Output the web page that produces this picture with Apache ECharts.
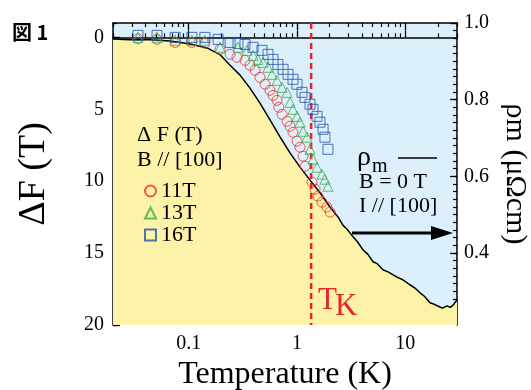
<!DOCTYPE html>
<html><head><meta charset="utf-8">
<script src="https://cdn.jsdelivr.net/npm/echarts@6/dist/echarts.min.js"></script>
<style>html,body{margin:0;padding:0;background:#fff}#c{width:531px;height:390px}</style>
</head><body><div id="c"></div>
<script>
// rho_m (B = 0 T) vs temperature
const rhoT = [0.02,0.0287,0.044,0.067,0.103,0.148,0.195,0.241,0.298,0.368,0.455,0.563,0.697,0.861,1.066,1.318,1.63,2.017,2.39,2.66,2.9,3.29,3.6,4.07,4.5,5.03,5.5,6.22,7.0,8.38,9.5,11.0,12.2,13.7,15.0,16.9,18.5,20.9,22.0,24.3,26.0,27.6,30];
const rhoV = [0.958,0.956,0.956,0.953,0.945,0.935,0.917,0.890,0.864,0.830,0.791,0.747,0.703,0.661,0.624,0.590,0.557,0.520,0.494,0.472,0.462,0.442,0.430,0.408,0.397,0.377,0.372,0.356,0.350,0.337,0.330,0.317,0.309,0.296,0.287,0.270,0.266,0.259,0.256,0.262,0.258,0.264,0.277];
// Delta F at 11 T
const t11 = [0.034,0.051,0.075,0.107,0.141,0.195,0.241,0.279,0.331,0.368,0.41,0.455,0.507,0.563,0.60,0.654,0.68,0.727,0.809,0.862,0.918,1.0,1.066,1.136,1.185,1.376,1.466,1.56,1.70,1.89,2.02];
const f11 = [0.1,0.14,0.35,0.35,0.4,0.83,1.18,1.39,1.6,1.94,2.29,2.78,3.26,3.68,4.03,4.38,4.86,5.35,5.83,6.18,6.6,7.22,7.64,8.26,8.96,10.07,10.56,11.04,11.46,11.8,12.15];
// Delta F at 13 T
const t13 = [0.034,0.051,0.075,0.107,0.141,0.195,0.285,0.345,0.393,0.436,0.486,0.54,0.588,0.654,0.727,0.809,0.862,0.918,1.0,1.066,1.136,1.237,1.318,1.405,1.53,1.70,1.81,1.93];
const f13 = [0,0,0.2,0.2,0.2,0.69,0.69,0.9,1.25,1.53,1.74,2.08,2.57,2.99,3.47,3.82,4.51,5.0,5.49,5.9,6.53,6.94,7.78,8.47,9.03,9.51,9.86,10.35];
// Delta F at 16 T
const t16 = [0.034,0.051,0.075,0.107,0.141,0.187,0.241,0.285,0.331,0.393,0.475,0.54,0.60,0.667,0.743,0.826,0.918,1.0,1.112,1.185,1.318,1.405,1.53,1.63,1.74,1.81,1.93];
const f16 = [-0.14,-0.14,0,0,0,0.14,0.35,0.42,0.49,0.69,0.9,1.18,1.53,1.88,2.22,2.57,2.92,3.26,3.82,4.17,4.65,5.0,5.49,5.9,6.39,6.94,7.78];
const TK = 1.35;
const xMajor = [0.1,1,10];
const xMinor = [0.02,0.03,0.04,0.05,0.06,0.07,0.08,0.09,0.2,0.3,0.4,0.5,0.6,0.7,0.8,0.9,2,3,4,5,6,7,8,9,20,30];
const yLeftMajor = [0,5,10,15,20];
const yRightMajor = [0.4,0.6,0.8,1.0];

const yRightMinor = [];
for (let v = 22; v <= 100; v += 2) yRightMinor.push(v / 100);
const yLeftMinor = [];
for (let v = -1; v <= 20; v++) yLeftMinor.push(v);

const zip = (a, b) => a.map((v, i) => [v, b[i]]);
const serif = 'Liberation Serif';
const lineS = {lineStyle: {color: '#000', width: 1.5}};

const chart = echarts.init(document.getElementById('c'), null, {renderer: 'canvas'});
const xBase = {type: 'log', min: 0.02, max: 30, gridIndex: 0, splitLine: {show: false}};
const yLBase = {type: 'value', inverse: true, min: -1, max: 20, position: 'left', splitLine: {show: false}};
const yRBase = {type: 'value', min: 0.212, max: 1.0, position: 'right', splitLine: {show: false}};

chart.setOption({
  animation: false,
  grid: {left: 113, right: 74, top: 23, bottom: 65, show: true, backgroundColor: '#dcf0fb', borderWidth: 0,
    containLabel: false, outerBoundsMode: 'none'},
  xAxis: [
    Object.assign({}, xBase, {position: 'bottom', name: 'Temperature (K)', nameLocation: 'middle', nameGap: 31,
      nameTextStyle: {fontFamily: serif, fontSize: 32, color: '#000'},
      axisLine: lineS, axisTick: {inside: true, length: 7, customValues: xMajor, lineStyle: {color: '#000', width: 1.3}},
      axisLabel: {customValues: xMajor, fontFamily: serif, fontSize: 20, color: '#000', margin: 9}}),
    Object.assign({}, xBase, {position: 'bottom', axisLine: {show: false}, axisLabel: {show: false},
      axisTick: {inside: true, length: 4, customValues: xMinor, lineStyle: {color: '#000', width: 1.2}}}),
    Object.assign({}, xBase, {position: 'top', axisLine: lineS, axisLabel: {show: false},
      axisTick: {inside: true, length: 7, customValues: xMajor, lineStyle: {color: '#000', width: 1.3}}}),
    Object.assign({}, xBase, {position: 'top', axisLine: {show: false}, axisLabel: {show: false},
      axisTick: {inside: true, length: 4, customValues: xMinor, lineStyle: {color: '#000', width: 1.2}}})
  ],
  yAxis: [
    Object.assign({}, yLBase, {name: 'ΔF (T)', nameLocation: 'middle', nameGap: 60,
      nameTextStyle: {fontFamily: serif, fontSize: 38, color: '#000'},
      axisLine: lineS, axisTick: {inside: true, length: 7, customValues: yLeftMajor, lineStyle: {color: '#000', width: 1.3}},
      axisLabel: {customValues: yLeftMajor, fontFamily: serif, fontSize: 20, color: '#000', margin: 9}}),
    Object.assign({}, yLBase, {axisLine: {show: false}, axisLabel: {show: false},
      axisTick: {inside: true, length: 4, customValues: yLeftMinor, lineStyle: {color: '#000', width: 1.2}}}),
    Object.assign({}, yRBase, {name: 'ρm (μΩcm)', nameLocation: 'middle', nameGap: 34, nameRotate: -90,
      nameTextStyle: {fontFamily: serif, fontSize: 30, color: '#000'},
      axisLine: lineS, axisTick: {inside: true, length: 7, customValues: yRightMajor, lineStyle: {color: '#000', width: 1.3}},
      axisLabel: {customValues: yRightMajor, fontFamily: serif, fontSize: 20, color: '#000', margin: 7,
        formatter: v => Number(v).toFixed(1)}}),
    Object.assign({}, yRBase, {axisLine: {show: false}, axisLabel: {show: false},
      axisTick: {inside: true, length: 4, customValues: yRightMinor, lineStyle: {color: '#000', width: 1.2}}})
  ],
  legend: {
    orient: 'vertical', left: 139, top: 175, itemWidth: 11, itemHeight: 11, itemGap: 0,
    data: ['11T', '13T', '16T'],
    itemStyle: {borderWidth: 2},
    textStyle: {fontFamily: serif, fontSize: 22, color: '#000', padding: [0, 0, 0, 0]}
  },
  series: [
    {type: 'line', name: 'rho', xAxisIndex: 0, yAxisIndex: 2, data: zip(rhoT, rhoV), symbol: 'none', z: 2,
      lineStyle: {color: '#000', width: 1.5}, areaStyle: {color: '#fcf3a9', opacity: 1, origin: 'start'}},
    {type: 'line', name: 'TK', xAxisIndex: 0, yAxisIndex: 0, data: [[TK, -1], [TK, 20]], symbol: 'none', z: 3,
      lineStyle: {color: '#e8252a', width: 2.5, type: [6, 4]}},
    {type: 'scatter', name: '11T', xAxisIndex: 0, yAxisIndex: 0, data: zip(t11, f11), symbol: 'circle', symbolSize: 10, z: 4,
      itemStyle: {color: 'rgba(0,0,0,0)', borderColor: '#e8322c', borderWidth: 1}},
    {type: 'scatter', name: '13T', xAxisIndex: 0, yAxisIndex: 0, data: zip(t13, f13), symbol: 'triangle', symbolSize: 10, z: 4,
      itemStyle: {color: 'rgba(0,0,0,0)', borderColor: '#3cae48', borderWidth: 1}},
    {type: 'scatter', name: '16T', xAxisIndex: 0, yAxisIndex: 0, data: zip(t16, f16), symbol: 'rect', symbolSize: 10, z: 4,
      itemStyle: {color: 'rgba(0,0,0,0)', borderColor: '#2350a8', borderWidth: 1}}
  ],
  graphic: [
    {type: 'text', z: 10, left: 12, top: 22, style: {text: '図 1', font: 'bold 20px "Noto Sans CJK JP"', fill: '#000'}},
    {type: 'text', z: 10, style: {x: 137, y: 135, text: 'Δ F (T)', font: '22px "Liberation Serif"', fill: '#000', verticalAlign: 'middle'}},
    {type: 'text', z: 10, style: {x: 137, y: 160, text: 'B // [100]', font: '22px "Liberation Serif"', fill: '#000', verticalAlign: 'middle'}},
    {type: 'text', z: 10, style: {x: 357, y: 158, text: 'ρ', font: '28px "Liberation Serif"', fill: '#000', verticalAlign: 'middle'}},
    {type: 'text', z: 10, style: {x: 372, y: 167, text: 'm', font: '20px "Liberation Serif"', fill: '#000', verticalAlign: 'middle'}},
    {type: 'line', z: 10, shape: {x1: 398, y1: 158, x2: 437, y2: 158}, style: {stroke: '#000', lineWidth: 1.5}},
    {type: 'text', z: 10, style: {x: 359, y: 182, text: 'B = 0 T', font: '22px "Liberation Serif"', fill: '#000', verticalAlign: 'middle'}},
    {type: 'text', z: 10, style: {x: 359, y: 206, text: 'I // [100]', font: '22px "Liberation Serif"', fill: '#000', verticalAlign: 'middle'}},
    {type: 'line', z: 10, shape: {x1: 352, y1: 233, x2: 434, y2: 233}, style: {stroke: '#000', lineWidth: 3}},
    {type: 'polygon', z: 10, shape: {points: [[431, 226], [453, 233], [431, 240]]}, style: {fill: '#000'}},
    {type: 'text', z: 10, style: {x: 318, y: 285, text: 'T', font: '31px "Liberation Serif"', fill: '#e8252a', verticalAlign: 'top'}},
    {type: 'text', z: 10, style: {x: 335, y: 291, text: 'K', font: '31px "Liberation Serif"', fill: '#e8252a', verticalAlign: 'top'}}
  ]
});
</script>
</body></html>
